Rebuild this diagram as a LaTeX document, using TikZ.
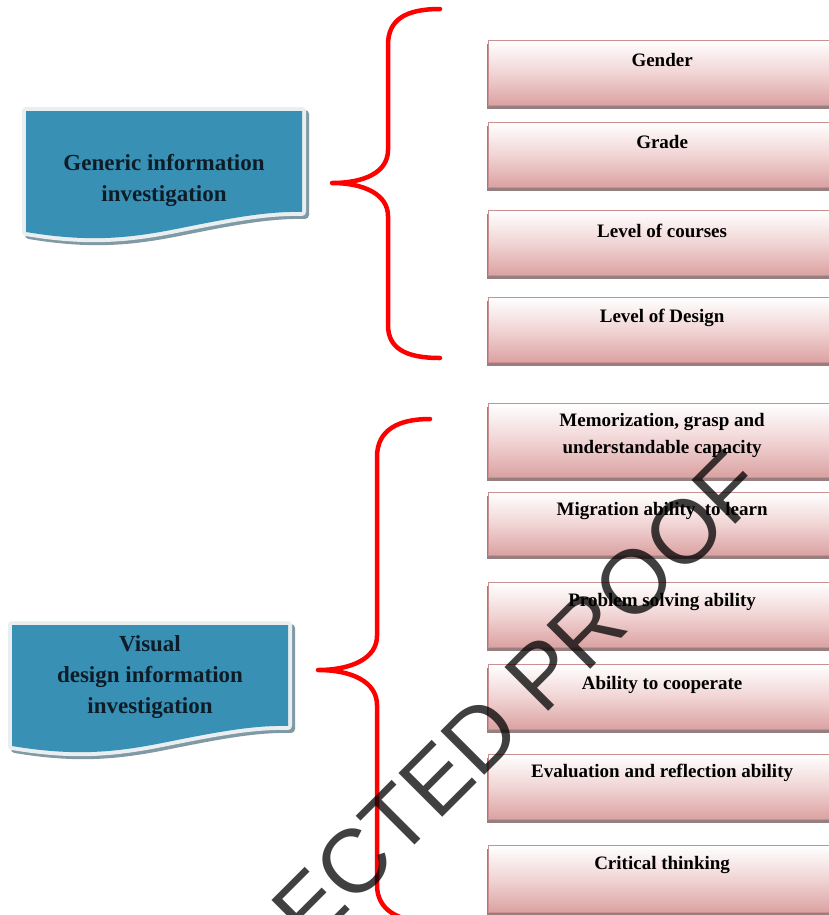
\documentclass[tikz,border=0pt]{standalone}
\usepackage{fontspec}
\setmainfont{Liberation Serif}
\newfontfamily\wmfont{Liberation Sans}
\definecolor{docblue}{HTML}{3891B4}
\definecolor{docframe}{HTML}{E9EEF1}
\definecolor{docshadow}{HTML}{7F99A5}
\definecolor{pinkbot}{HTML}{DBA1A1}
\definecolor{pinkmid}{HTML}{F1D4D4}
\definecolor{pinkedge}{HTML}{CB8F8F}
\definecolor{pinkshadow}{HTML}{977F7F}
\definecolor{bracered}{HTML}{FF0000}
\definecolor{doctxt}{HTML}{0E1C28}
\begin{document}
\begin{tikzpicture}[x=1bp,y=-1bp,
  itembox/.style={draw=pinkedge, line width=1.2bp, top color=white, bottom color=pinkbot, middle color=pinkmid,
    minimum width=347bp, minimum height=65bp, anchor=north west, inner sep=0pt,
    preaction={fill=pinkshadow, transform canvas={xshift=-1.8bp,yshift=-3bp}}},
  itemtext/.style={font=\bfseries\fontsize{19bp}{27bp}\selectfont, align=center, inner sep=0pt, text=black},
  doctext/.style={font=\bfseries\fontsize{23bp}{31bp}\selectfont, align=center, inner sep=0pt, text=doctxt},
  docpath/.style={insert path={(0,0) -- (276,0) -- (276,101) .. controls (240,100) and (200,108) .. (150,118) .. controls (100,128) and (60,131) .. (0,121) -- cycle}},
  bracestyle/.style={draw=bracered, line width=4.5bp, line cap=round, line join=round},
]
\path[use as bounding box, clip] (0,0) rectangle (829,915);
\fill[white] (0,0) rectangle (829,915);

% generic document shape
\begin{scope}[shift={(26,111)}]
  \begin{scope}[shift={(3,3)}]
    \path[docpath, fill=docshadow, draw=docshadow, line width=8bp, line join=round];
  \end{scope}
  \path[docpath, draw=docframe, line width=8bp, line join=round];
  \path[docpath, fill=docblue];
\end{scope}
\node[doctext] (gen) at (164,180) {Generic information\\investigation};

% visual document shape
\begin{scope}[shift={(12,625)}]
  \begin{scope}[shift={(3,3)}]
    \path[docpath, fill=docshadow, draw=docshadow, line width=8bp, line join=round];
  \end{scope}
  \path[docpath, draw=docframe, line width=8bp, line join=round];
  \path[docpath, fill=docblue];
\end{scope}
\node[doctext] (vis) at (150,677) {Visual\\design information\\investigation};

% braces
\draw[bracestyle] (440,9) .. controls (405,9) and (388,20) .. (388,45) -- (388,150)
  .. controls (388,172) and (365,183) .. (332,183)
  .. controls (365,183) and (388,195) .. (388,216) -- (388,325)
  .. controls (388,348) and (405,358) .. (440,358);
\draw[bracestyle] (430,419) .. controls (398,419) and (377,430) .. (377,457) -- (377,636)
  .. controls (377,658) and (352,670) .. (318,670)
  .. controls (352,670) and (377,682) .. (377,705) -- (377,885)
  .. controls (377,910) and (398,922) .. (432,922);

% generic items
\node[itembox] (g1) at (488,40) {};
\node[itembox] (g2) at (488,122) {};
\node[itembox] (g3) at (488,210) {};
\node[itembox] (g4) at (488,297) {};
\node[itemtext] (tg1) at ([yshift=-20bp]g1.north) {Gender};
\node[itemtext] (tg2) at ([yshift=-20bp]g2.north) {Grade};
\node[itemtext] (tg3) at ([yshift=-21bp]g3.north) {Level of courses};
\node[itemtext] (tg4) at ([yshift=-21bp]g4.north) {Level of Design};

% visual items
\node[itembox, minimum height=74bp] (v1) at (488,403) {};
\node[itembox, minimum height=63bp] (v2) at (488,492) {};
\node[itembox] (v3) at (488,582) {};
\node[itembox] (v4) at (488,664) {};
\node[itembox] (v5) at (488,754) {};
\node[itembox, minimum height=67bp] (v6) at (488,845) {};
\node[itemtext] (tv1) at ([yshift=-32.5bp]v1.north) {Memorization, grasp and\\understandable capacity};
\node[itemtext] (tv2) at ([yshift=-19bp]v2.north) {Migration ability\ \ to learn};
\node[itemtext] (tv3) at ([yshift=-20bp]v3.north) {Problem solving ability};
\node[itemtext] (tv4) at ([yshift=-21bp]v4.north) {Ability to cooperate};
\node[itemtext] (tv5) at ([yshift=-19bp]v5.north) {Evaluation and reflection ability};
\node[itemtext] (tv6) at ([yshift=-20bp]v6.north) {Critical thinking};

% watermark
\node[font=\wmfont\fontsize{90bp}{90bp}\selectfont, rotate=45, anchor=base west, inner sep=0pt,
  text=black, text opacity=0.75] (wm) at (310,950) {ECTED PROOF};
\end{tikzpicture}
\end{document}
